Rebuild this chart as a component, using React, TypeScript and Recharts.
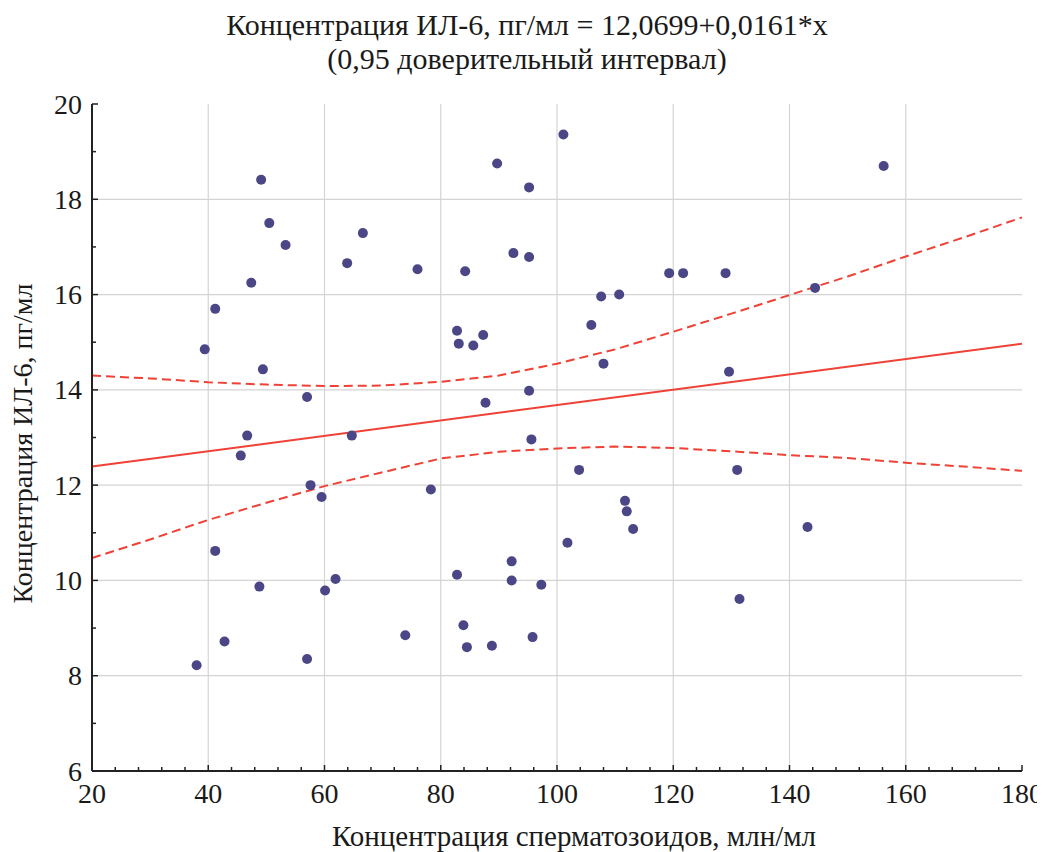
import { ComposedChart, Scatter, Line, XAxis, YAxis, ReferenceLine } from "recharts";

// sperm concentration (x) vs IL-6 concentration (y)
const spermX = [
  38.0, 39.4, 41.2, 41.2, 42.8, 45.6, 46.7, 47.4, 48.8, 49.1, 49.4, 50.5, 53.3,
  57.0, 57.0, 57.6, 59.5, 60.1, 61.9, 63.9, 64.7, 66.6, 73.9, 76.0, 78.3, 82.8,
  82.8, 83.1, 83.9, 84.2, 84.5, 85.6, 87.3, 87.7, 88.8, 89.7, 92.2, 92.2, 92.5,
  95.2, 95.2, 95.2, 95.6, 95.8, 97.3, 101.1, 101.8, 103.8, 105.9, 107.6, 108.0,
  110.7, 111.7, 112.0, 113.1, 119.3, 121.7, 129.0, 129.6, 131.0, 131.4, 143.1,
  144.4, 156.2,
];
const il6Y = [
  8.22, 14.85, 15.7, 10.62, 8.72, 12.62, 13.04, 16.25, 9.87, 18.41, 14.43, 17.5, 17.04,
  13.85, 8.35, 12.0, 11.75, 9.79, 10.03, 16.66, 13.04, 17.29, 8.85, 16.53, 11.91, 15.24,
  10.12, 14.97, 9.06, 16.49, 8.6, 14.93, 15.15, 13.73, 8.63, 18.75, 10.4, 10.0, 16.87,
  18.25, 16.79, 13.98, 12.96, 8.81, 9.91, 19.36, 10.79, 12.32, 15.36, 15.96, 14.55,
  16.0, 11.67, 11.45, 11.08, 16.45, 16.45, 16.45, 14.38, 12.32, 9.61, 11.12,
  16.14, 18.7,
];

// regression line 12.0699 + 0.0161*x at the axis ends
const fitX = [20, 180];
const fitY = [12.39, 14.97];

// 0.95 confidence band
const bandX = [20, 30, 40, 50, 60, 70, 80, 90, 100, 110, 120, 130, 140, 150, 160, 170, 180];
const upperBand = [14.3, 14.24, 14.16, 14.11, 14.08, 14.09, 14.17, 14.3, 14.55, 14.85, 15.22, 15.6, 15.99, 16.38, 16.8, 17.2, 17.62];
const lowerBand = [10.47, 10.86, 11.27, 11.63, 11.98, 12.27, 12.56, 12.7, 12.77, 12.81, 12.78, 12.71, 12.63, 12.57, 12.47, 12.39, 12.3];

const xMajor = [20, 40, 60, 80, 100, 120, 140, 160, 180];
const yMajor = [6, 8, 10, 12, 14, 16, 18, 20];
const xTicks = Array.from({ length: 41 }, (_, i) => 20 + i * 4);
const yTicks = Array.from({ length: 15 }, (_, i) => 6 + i);

const points = spermX.map((x, i) => ({ x, y: il6Y[i] }));
const fit = fitX.map((x, i) => ({ x, y: fitY[i] }));
const upper = bandX.map((x, i) => ({ x, y: upperBand[i] }));
const lower = bandX.map((x, i) => ({ x, y: lowerBand[i] }));

const FONT = '"Liberation Serif", "Times New Roman", serif';
const AXIS = "#222";
const TEXT = "#1a1a1a";
const RED = "#ef4135";
const DOT = "#4b4787";
const GRID = "#d4d4d4";

const W = 1037;
const H = 844;

const BottomTick = ({ x, y, payload }: any) => {
  const major = xMajor.includes(payload.value);
  return (
    <g>
      <line x1={x} x2={x} y1={y} y2={y - (major ? 6 : 4)} stroke={AXIS} strokeWidth={1.5} />
      {major && (
        <text x={x} y={y + 22} textAnchor="middle" dominantBaseline="central" fontSize={28} fill={TEXT} fontFamily={FONT}>
          {payload.value}
        </text>
      )}
    </g>
  );
};

const TopTick = ({ x, y, payload }: any) => {
  const major = xMajor.includes(payload.value);
  return <line x1={x} x2={x} y1={y} y2={y + (major ? 6 : 4)} stroke={AXIS} strokeWidth={1.5} />;
};

const LeftTick = ({ x, y, payload }: any) => {
  const major = yMajor.includes(payload.value);
  return (
    <g>
      <line x1={x} x2={x + (major ? 6 : 4)} y1={y} y2={y} stroke={AXIS} strokeWidth={1.5} />
      {major && (
        <text x={x - 10} y={y} textAnchor="end" dominantBaseline="central" fontSize={28} fill={TEXT} fontFamily={FONT}>
          {payload.value}
        </text>
      )}
    </g>
  );
};

const RightTick = ({ x, y, payload }: any) => {
  const major = yMajor.includes(payload.value);
  return <line x1={x} x2={x - (major ? 6 : 4)} y1={y} y2={y} stroke={AXIS} strokeWidth={1.5} />;
};

const YLabel = ({ viewBox }: any) => {
  const cx = viewBox.x + 14;
  const cy = viewBox.y + viewBox.height / 2 + 6;
  return (
    <text x={cx} y={cy} transform={`rotate(-90, ${cx}, ${cy})`} textAnchor="middle" dominantBaseline="central" fontSize={28} fill={TEXT} fontFamily={FONT}>
      Концентрация ИЛ-6, пг/мл
    </text>
  );
};

const XLabel = ({ viewBox }: any) => (
  <text x={viewBox.x + viewBox.width / 2 + 17} y={viewBox.y + viewBox.height - 6} textAnchor="middle" fontSize={29} fill={TEXT} fontFamily={FONT}>
    Концентрация сперматозоидов, млн/мл
  </text>
);

const Dot = ({ cx, cy }: any) => <circle cx={cx} cy={cy} r={5} fill={DOT} />;

export default function App() {
  return (
    <div style={{ position: "relative", width: W, height: H, fontFamily: FONT, color: TEXT }}>
      <div style={{ position: "absolute", left: 0, top: 0, width: 1038, textAlign: "center", fontSize: 30, lineHeight: "34px" }}>
        <div>Концентрация ИЛ-6, пг/мл = 12,0699+0,0161*x</div>
        <div>(0,95 доверительный интервал)</div>
      </div>
      <ComposedChart width={W} height={H} margin={{ top: 96, right: 23, bottom: 0, left: 0 }}>
        <XAxis
          dataKey="x"
          type="number"
          domain={[20, 180]}
          ticks={xTicks}
          interval={0}
          height={81}
          tickSize={0}
          tickMargin={0}
          tickLine={false}
          axisLine={{ stroke: AXIS, strokeWidth: 2 }}
          tick={<BottomTick />}
          label={{ content: <XLabel /> }}
        />
        <XAxis
          xAxisId="top"
          orientation="top"
          dataKey="x"
          type="number"
          domain={[20, 180]}
          ticks={xTicks}
          interval={0}
          height={0}
          tickSize={0}
          tickMargin={0}
          tickLine={false}
          axisLine={{ stroke: AXIS, strokeWidth: 2 }}
          tick={<TopTick />}
        />
        <YAxis
          dataKey="y"
          type="number"
          domain={[6, 20]}
          ticks={yTicks}
          interval={0}
          width={84}
          tickSize={0}
          tickMargin={0}
          tickLine={false}
          axisLine={{ stroke: AXIS, strokeWidth: 2 }}
          tick={<LeftTick />}
          label={{ content: <YLabel /> }}
        />
        <YAxis
          yAxisId="right"
          orientation="right"
          dataKey="y"
          type="number"
          domain={[6, 20]}
          ticks={yTicks}
          interval={0}
          width={0}
          tickSize={0}
          tickMargin={0}
          tickLine={false}
          axisLine={{ stroke: AXIS, strokeWidth: 2 }}
          tick={<RightTick />}
        />
        {xMajor.slice(1, -1).map((v) => (
          <ReferenceLine key={"gx" + v} x={v} stroke={GRID} strokeWidth={1.2} />
        ))}
        {yMajor.slice(1, -1).map((v) => (
          <ReferenceLine key={"gy" + v} y={v} stroke={GRID} strokeWidth={1.2} />
        ))}
        <Line data={upper} dataKey="y" xAxisId="top" yAxisId="right" type="linear" stroke={RED} strokeWidth={2} strokeDasharray="9 5" dot={false} isAnimationActive={false} />
        <Line data={lower} dataKey="y" xAxisId="top" yAxisId="right" type="linear" stroke={RED} strokeWidth={2} strokeDasharray="9 5" dot={false} isAnimationActive={false} />
        <Line data={fit} dataKey="y" type="linear" stroke={RED} strokeWidth={2} dot={false} isAnimationActive={false} />
        <Scatter data={points} dataKey="y" shape={<Dot />} isAnimationActive={false} />
      </ComposedChart>
    </div>
  );
}
